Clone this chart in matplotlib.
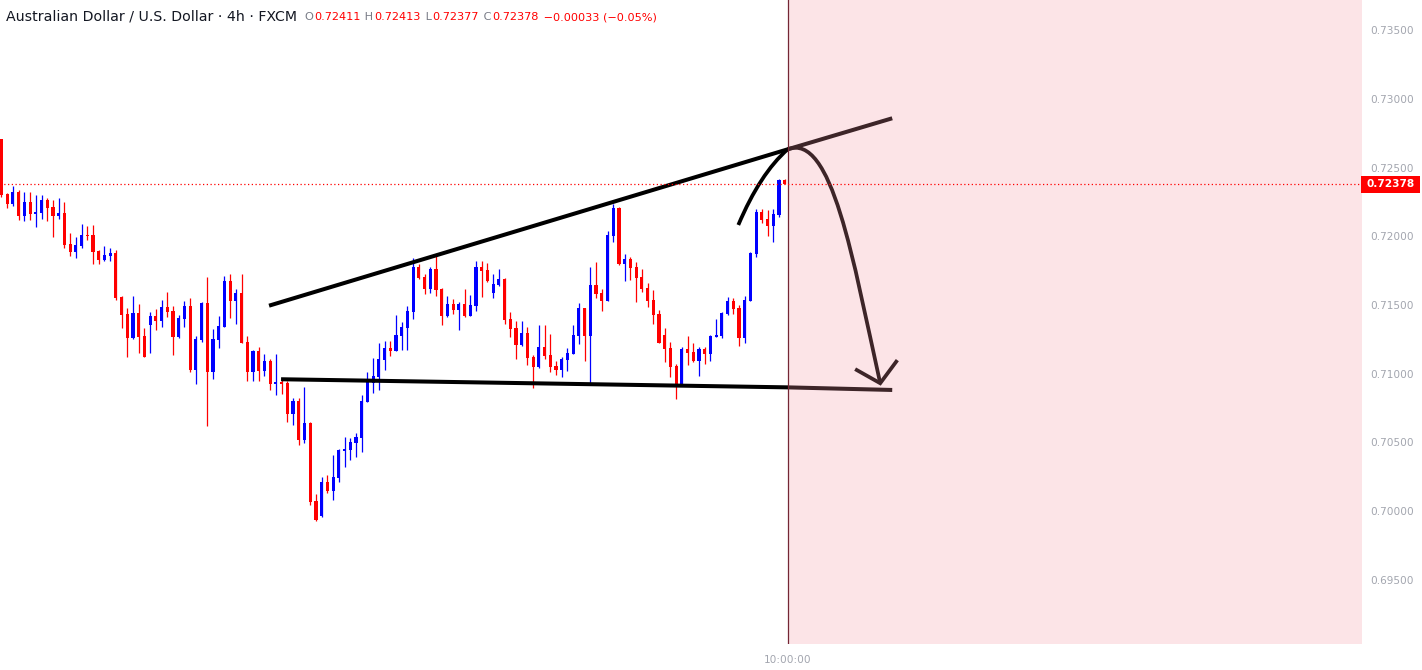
import numpy as np
import matplotlib.pyplot as plt
import matplotlib.transforms as mtransforms
from matplotlib.patches import Rectangle, PathPatch
from matplotlib.path import Path

# AUD/USD 4h candles
opens = [0.72707, 0.72307, 0.72235, 0.72322, 0.72147, 0.72249, 0.72162, 0.72169, 0.72264, 0.72213,
         0.72147, 0.72169, 0.71944, 0.71885, 0.71929, 0.72009, 0.72009, 0.71893, 0.71827, 0.71856,
         0.71878, 0.71558, 0.71435, 0.71260, 0.71442, 0.71275, 0.71355, 0.71420, 0.71384, 0.71485,
         0.71456, 0.71267, 0.71398, 0.71493, 0.71027, 0.71245, 0.71514, 0.71013, 0.71245, 0.71340,
         0.71675, 0.71529, 0.71587, 0.71231, 0.71013, 0.71165, 0.71020, 0.71093, 0.70925, 0.70940,
         0.70933, 0.70707, 0.70802, 0.70518, 0.70642, 0.70075, 0.69965, 0.70213, 0.70147, 0.70242,
         0.70438, 0.70445, 0.70496, 0.70533, 0.70795, 0.70933, 0.70976, 0.71100, 0.71187, 0.71165,
         0.71275, 0.71333, 0.71449, 0.71776, 0.71704, 0.71616, 0.71762, 0.71616, 0.71420, 0.71507,
         0.71464, 0.71507, 0.71420, 0.71493, 0.71776, 0.71755, 0.71587, 0.71645, 0.71689, 0.71398,
         0.71333, 0.71209, 0.71296, 0.71122, 0.71049, 0.71195, 0.71136, 0.71056, 0.71027, 0.71100,
         0.71144, 0.71275, 0.71478, 0.71275, 0.71645, 0.71587, 0.71529, 0.72002, 0.72205, 0.71798,
         0.71835, 0.71776, 0.71704, 0.71624, 0.71536, 0.71435, 0.71282, 0.71187, 0.71056, 0.70911,
         0.71180, 0.71158, 0.71093, 0.71180, 0.71144, 0.71267, 0.71275, 0.71435, 0.71529, 0.71478,
         0.71260, 0.71529, 0.71871, 0.72176, 0.72125, 0.72075, 0.72155, 0.72411]
highs = [0.72707, 0.72315, 0.72365, 0.72336, 0.72322, 0.72322, 0.72300, 0.72300, 0.72278, 0.72264,
         0.72278, 0.72249, 0.72024, 0.71994, 0.72089, 0.72075, 0.72082, 0.71900, 0.71929, 0.71914,
         0.71900, 0.71565, 0.71478, 0.71565, 0.71507, 0.71333, 0.71449, 0.71471, 0.71536, 0.71595,
         0.71493, 0.71427, 0.71529, 0.71551, 0.71275, 0.71522, 0.71704, 0.71325, 0.71420, 0.71711,
         0.71725, 0.71616, 0.71725, 0.71275, 0.71173, 0.71195, 0.71144, 0.71107, 0.71144, 0.70969,
         0.70947, 0.70824, 0.70824, 0.70904, 0.70649, 0.70125, 0.70249, 0.70264, 0.70409, 0.70453,
         0.70540, 0.70533, 0.70569, 0.70845, 0.71013, 0.71115, 0.71224, 0.71238, 0.71238, 0.71427,
         0.71376, 0.71493, 0.71842, 0.71798, 0.71725, 0.71776, 0.71871, 0.71624, 0.71565, 0.71544,
         0.71522, 0.71616, 0.71573, 0.71820, 0.71820, 0.71805, 0.71725, 0.71762, 0.71696, 0.71449,
         0.71384, 0.71384, 0.71340, 0.71136, 0.71355, 0.71355, 0.71289, 0.71093, 0.71122, 0.71187,
         0.71355, 0.71514, 0.71478, 0.71776, 0.71813, 0.71616, 0.72038, 0.72235, 0.72213, 0.71871,
         0.71849, 0.71813, 0.71762, 0.71660, 0.71609, 0.71464, 0.71333, 0.71231, 0.71071, 0.71195,
         0.71275, 0.71224, 0.71195, 0.71195, 0.71282, 0.71398, 0.71449, 0.71558, 0.71551, 0.71500,
         0.71565, 0.71885, 0.72198, 0.72198, 0.72191, 0.72198, 0.72416, 0.72413]
lows = [0.72285, 0.72205, 0.72220, 0.72118, 0.72111, 0.72118, 0.72067, 0.72125, 0.72111, 0.71994,
        0.72125, 0.71914, 0.71856, 0.71842, 0.71914, 0.71973, 0.71798, 0.71798, 0.71820, 0.71820,
        0.71536, 0.71333, 0.71122, 0.71253, 0.71151, 0.71122, 0.71151, 0.71318, 0.71340, 0.71413,
        0.71136, 0.71260, 0.71340, 0.71013, 0.70925, 0.71231, 0.70620, 0.70962, 0.71187, 0.71340,
        0.71405, 0.71362, 0.71224, 0.70947, 0.70947, 0.70947, 0.70984, 0.70882, 0.70845, 0.70853,
        0.70649, 0.70627, 0.70482, 0.70496, 0.70045, 0.69929, 0.69958, 0.70133, 0.70082, 0.70213,
        0.70322, 0.70373, 0.70395, 0.70431, 0.70795, 0.70860, 0.70882, 0.71027, 0.71129, 0.71165,
        0.71173, 0.71173, 0.71398, 0.71689, 0.71580, 0.71587, 0.71565, 0.71355, 0.71413, 0.71435,
        0.71318, 0.71413, 0.71420, 0.71456, 0.71558, 0.71667, 0.71551, 0.71638, 0.71362, 0.71267,
        0.71107, 0.71202, 0.71064, 0.70896, 0.71042, 0.71107, 0.71013, 0.70991, 0.70976, 0.71020,
        0.71144, 0.71216, 0.71093, 0.70918, 0.71551, 0.71456, 0.71529, 0.71958, 0.71791, 0.71675,
        0.71682, 0.71522, 0.71595, 0.71485, 0.71362, 0.71224, 0.71085, 0.70976, 0.70816, 0.70911,
        0.71064, 0.71085, 0.70984, 0.71071, 0.71093, 0.71267, 0.71260, 0.71427, 0.71435, 0.71202,
        0.71224, 0.71529, 0.71849, 0.72096, 0.72002, 0.71958, 0.72140, 0.72377]
closes = [0.72300, 0.72235, 0.72322, 0.72147, 0.72249, 0.72162, 0.72176, 0.72264, 0.72205, 0.72147,
          0.72169, 0.71936, 0.71885, 0.71936, 0.72009, 0.72002, 0.71885, 0.71827, 0.71864, 0.71878,
          0.71551, 0.71427, 0.71260, 0.71442, 0.71267, 0.71122, 0.71420, 0.71384, 0.71485, 0.71449,
          0.71267, 0.71405, 0.71493, 0.71027, 0.71253, 0.71514, 0.71013, 0.71253, 0.71347, 0.71675,
          0.71529, 0.71587, 0.71224, 0.71013, 0.71165, 0.71020, 0.71093, 0.70925, 0.70940, 0.70925,
          0.70707, 0.70802, 0.70518, 0.70642, 0.70067, 0.69936, 0.70213, 0.70147, 0.70249, 0.70445,
          0.70453, 0.70504, 0.70540, 0.70802, 0.70962, 0.70984, 0.71107, 0.71187, 0.71165, 0.71282,
          0.71340, 0.71456, 0.71776, 0.71696, 0.71616, 0.71762, 0.71609, 0.71420, 0.71507, 0.71464,
          0.71507, 0.71420, 0.71500, 0.71776, 0.71747, 0.71675, 0.71653, 0.71689, 0.71391, 0.71325,
          0.71209, 0.71296, 0.71115, 0.71049, 0.71195, 0.71129, 0.71049, 0.71027, 0.71107, 0.71151,
          0.71282, 0.71478, 0.71275, 0.71645, 0.71580, 0.71529, 0.72009, 0.72205, 0.71798, 0.71835,
          0.71769, 0.71696, 0.71616, 0.71529, 0.71427, 0.71224, 0.71180, 0.71049, 0.70911, 0.71180,
          0.71151, 0.71093, 0.71180, 0.71144, 0.71275, 0.71282, 0.71442, 0.71529, 0.71471, 0.71260,
          0.71536, 0.71878, 0.72176, 0.72118, 0.72075, 0.72162, 0.72409, 0.72378]

yticks = [0.695, 0.700, 0.705, 0.710, 0.715, 0.720, 0.725, 0.730, 0.735]
last_bar = 137.5          # "10:00:00" bar, start of the shaded zone
x_label = "10:00:00"

# hand-drawn annotations (bar index, price)
upper_line = ([46.8, 137.5, 155.8], [0.71495, 0.72632, 0.72858])
lower_line = ([48.9, 137.5, 155.8], [0.70960, 0.70901, 0.70882])
# bezier strokes: rise (quadratic), drop (cubic)
rise_arc = [(128.88, 0.72082), (132.67, 0.72455), (137.5, 0.72632)]
drop_arc = [(137.5, 0.72632), (145.27, 0.72758), (148.91, 0.71829), (153.7, 0.70931)]
arrow_head = ([149.6, 153.7, 156.5], [0.71027, 0.70931, 0.71088])

fig = plt.figure(figsize=(14.22, 6.70), dpi=100)
ax = fig.add_axes([0, 26 / 670, 1362 / 1422, 644 / 670])

o = np.array(opens); h = np.array(highs); l = np.array(lows); c = np.array(closes)
x = np.arange(len(o))
cols = np.where(c >= o, '#0000ff', '#ff0000')
ax.vlines(x, l, h, colors=cols, linewidth=0.9, zorder=2)
body = np.maximum(np.abs(c - o), 0.00002)
ax.bar(x, body, bottom=np.minimum(o, c), width=0.55, color=cols, linewidth=0, zorder=3)

# drawings
lw = 2.9
ax.plot(*upper_line, color='black', lw=lw, solid_capstyle='butt', zorder=4)
ax.plot(*lower_line, color='black', lw=lw, solid_capstyle='butt', zorder=4)
ax.add_patch(PathPatch(Path(rise_arc, [Path.MOVETO, Path.CURVE3, Path.CURVE3]),
                       fill=False, edgecolor='black', lw=2.7, capstyle='butt', zorder=4))
ax.add_patch(PathPatch(Path(drop_arc, [Path.MOVETO, Path.CURVE4, Path.CURVE4, Path.CURVE4]),
                       fill=False, edgecolor='black', lw=2.7, capstyle='butt', zorder=4))
ax.plot(*arrow_head, color='black', lw=2.7, solid_joinstyle='miter', zorder=4)

# shaded future zone (semi-transparent, tints the drawings beneath)
ax.axvspan(last_bar, 240, facecolor=(0.96, 0.58, 0.64), alpha=0.25, lw=0, zorder=5)
ax.axvline(last_bar, color='#742634', lw=0.9, zorder=6)

# last price line + tag
ax.axhline(closes[-1], color='#ff0000', lw=0.9, linestyle=(0, (1, 2)), zorder=6)
trans = mtransforms.blended_transform_factory(ax.transAxes, ax.transData)
ax.add_patch(Rectangle((1 - 1 / 1362, closes[-1] - 0.00063), 59 / 1362, 0.00126,
                       transform=trans, facecolor='#ff0000', edgecolor='none',
                       clip_on=False, zorder=10))
ax.text(1 + 29 / 1362, closes[-1], f"{closes[-1]:.5f}", transform=trans, ha='center',
        va='center', color='white', fontsize=7.6, fontweight='bold', clip_on=False, zorder=11)

ax.set_xlim(-0.26, 237.97)
ax.set_ylim(0.690345, 0.737182)
ax.yaxis.tick_right()
ax.set_yticks(yticks)
ax.set_yticklabels([f"{v:.5f}" for v in yticks])
ax.tick_params(axis='y', length=0, pad=6, labelsize=7.6, labelcolor='#a3a6af')
ax.set_xticks([last_bar])
ax.set_xticklabels([x_label])
ax.tick_params(axis='x', length=0, pad=8, labelsize=7.6, labelcolor='#a3a6af')
for s in ax.spines.values():
    s.set_visible(False)

# header
fig.canvas.draw()
rend = fig.canvas.get_renderer()
ty = 1 - 17 / 670
t = fig.text(6 / 1422, ty, "Australian Dollar / U.S. Dollar \u00b7 4h \u00b7 FXCM",
             color='#131722', fontsize=10.2, va='center')
xpos = t.get_window_extent(rend).x1 + 7
parts = [("O", '#787b86'), ("0.72411", '#ff0000'), (" H", '#787b86'), ("0.72413", '#ff0000'),
         (" L", '#787b86'), ("0.72377", '#ff0000'), (" C", '#787b86'), ("0.72378", '#ff0000'),
         (" \u22120.00033 (\u22120.05%)", '#ff0000')]
for txt, col in parts:
    tt = fig.text(xpos / 1422, ty, txt, color=col, fontsize=8.1, va='center')
    xpos = tt.get_window_extent(rend).x1 + 1

fig.savefig("out.png", dpi=100)
